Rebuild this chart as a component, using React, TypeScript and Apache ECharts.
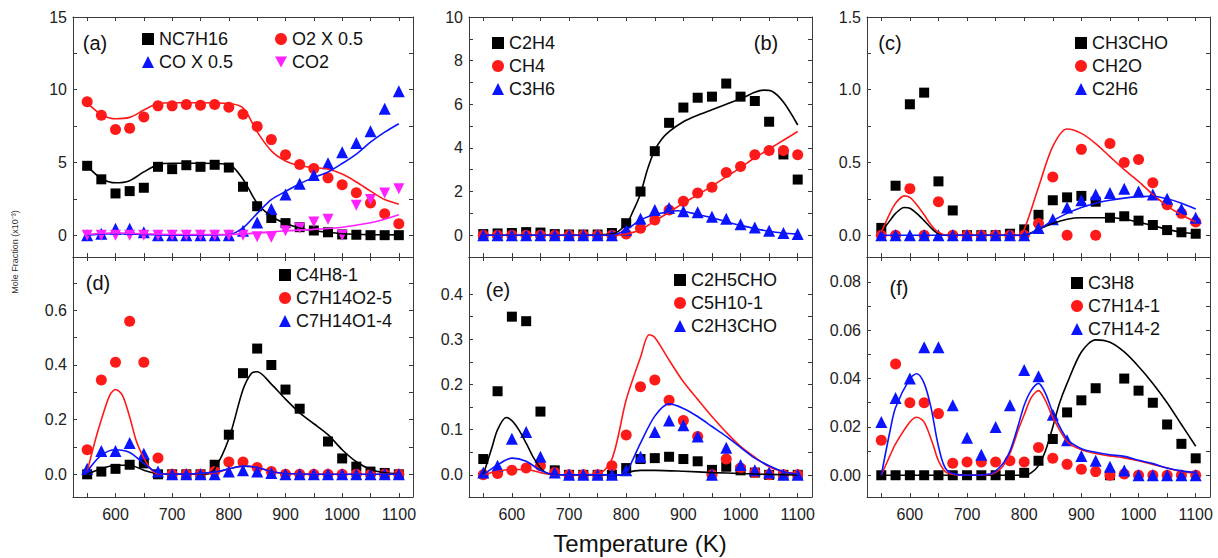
import React, { useEffect, useRef } from "react";
import * as echarts from "echarts";

// ---------- shared axis data ----------
const temps = [550, 575, 600, 625, 650, 675, 700, 725, 750, 775, 800, 825, 850, 875, 900, 925, 950, 975, 1000, 1025, 1050, 1075, 1100];
const xTickValues = [550, 600, 650, 700, 750, 800, 850, 900, 950, 1000, 1050, 1100];
const xLabelValues = [600, 700, 800, 900, 1000, 1100];

// ---------- panel (a) ----------
const nc7h16 = [4.77, 3.84, 2.87, 3.03, 3.26, 4.7, 4.54, 4.81, 4.7, 4.84, 4.65, 3.33, 1.99, 1.18, 0.83, 0.55, 0.32, 0.2, 0.05, 0.03, 0, 0, 0];
const o2x05 = [9.17, 8.24, 7.27, 7.36, 8.13, 8.89, 8.89, 8.98, 8.94, 8.98, 8.8, 8.31, 7.48, 6.57, 5.53, 4.86, 4.58, 3.94, 3.47, 2.92, 2.22, 1.48, 0.79];
const cox05 = [0, 0.1, 0.45, 0.45, 0.2, 0, 0, 0, 0, 0, 0, 0.3, 0.88, 1.8, 2.8, 3.54, 4.14, 4.95, 5.7, 6.34, 7.15, 8.7, 9.9];
const co2 = [0, 0, 0, 0, 0, 0, 0, 0, 0, 0, 0, 0, -0.1, -0.15, 0.3, 0.5, 0.9, 1.1, 0, 2.06, 2.45, 2.9, 3.2];
const nc7h16Model = [[550, 4.75], [575, 3.9], [600, 3.6], [625, 3.75], [650, 4.35], [675, 4.85], [700, 4.95], [750, 4.95], [800, 4.85], [825, 3.85], [850, 2.2], [875, 1.3], [900, 0.8], [925, 0.5], [950, 0.3], [975, 0.2], [1000, 0.1], [1050, 0.04], [1100, 0.02]];
const o2Model = [[550, 9.1], [575, 8.3], [600, 8.0], [625, 8.1], [650, 8.6], [675, 9.05], [700, 9.1], [750, 9.1], [800, 9.05], [825, 8.75], [850, 7.1], [875, 5.8], [900, 5.1], [925, 4.77], [950, 4.65], [975, 4.55], [1000, 4.2], [1025, 3.66], [1050, 3.03], [1075, 2.45], [1100, 2.13]];
const coModel = [[550, 0], [600, 0.1], [650, 0.05], [700, 0], [800, 0.05], [825, 0.5], [850, 1.5], [875, 2.45], [900, 3.0], [925, 3.54], [950, 3.96], [975, 4.35], [1000, 4.93], [1025, 5.58], [1050, 6.39], [1075, 7.08], [1100, 7.66]];
const co2Model = [[550, 0.05], [600, 0.15], [650, 0.1], [700, 0.05], [800, 0.05], [850, 0.15], [900, 0.3], [950, 0.4], [1000, 0.55], [1050, 0.85], [1075, 1.1], [1100, 1.41]];

// ---------- panel (b) ----------
const c2h4 = [0.05, 0.08, 0.1, 0.14, 0.12, 0.05, 0.03, 0.03, 0.03, 0.1, 0.55, 2.0, 3.85, 5.15, 5.85, 6.3, 6.35, 6.95, 6.35, 6.15, 5.2, 3.7, 2.55];
const ch4 = [0, 0, 0, 0, 0, 0, 0, 0, 0, 0, 0.05, 0.32, 0.7, 1.15, 1.55, 1.93, 2.2, 2.87, 3.15, 3.69, 3.88, 3.88, 3.69];
const c3h6 = [0, 0, 0, 0, 0, 0, 0, 0, 0, 0, 0.25, 0.75, 1.15, 1.25, 1.1, 1.05, 0.85, 0.75, 0.5, 0.35, 0.2, 0.1, 0.05];
const c2h4Model = [[550, 0], [700, 0], [775, 0.05], [800, 0.5], [812, 1.1], [825, 1.9], [837, 3.0], [850, 3.9], [862, 4.4], [875, 4.75], [900, 5.2], [925, 5.5], [950, 5.75], [975, 6.0], [1000, 6.25], [1025, 6.55], [1040, 6.65], [1055, 6.6], [1075, 6.1], [1100, 5.05]];
const ch4Model = [[550, 0], [775, 0], [800, 0.05], [825, 0.25], [850, 0.65], [875, 1.05], [900, 1.47], [925, 1.85], [950, 2.25], [975, 2.68], [1000, 3.1], [1025, 3.55], [1050, 3.95], [1075, 4.35], [1100, 4.75]];
const c3h6Model = [[550, 0], [775, 0], [800, 0.25], [825, 0.7], [850, 0.95], [875, 1.08], [890, 1.12], [900, 1.1], [925, 0.95], [950, 0.8], [975, 0.62], [1000, 0.45], [1025, 0.3], [1050, 0.18], [1075, 0.1], [1100, 0.05]];

// ---------- panel (c) ----------
const ch3cho = [0.05, 0.34, 0.9, 0.98, 0.37, 0.17, 0, 0, 0, 0.01, 0.04, 0.14, 0.24, 0.26, 0.27, 0.23, 0.12, 0.13, 0.1, 0.07, 0.035, 0.02, 0.01];
const ch2o = [0, 0, 0.32, 0, 0.23, 0, 0, 0, 0, 0, 0, 0.08, 0.4, 0, 0.59, 0, 0.63, 0.5, 0.52, 0.36, 0.21, 0.15, 0.09];
const c2h6 = [0, 0, 0, 0, 0, 0, 0, 0, 0, 0, 0, 0.05, 0.11, 0.19, 0.24, 0.28, 0.29, 0.32, 0.3, 0.28, 0.25, 0.18, 0.12];
const ch3choModel = [[550, 0.02], [565, 0.1], [575, 0.15], [590, 0.19], [600, 0.185], [612, 0.15], [625, 0.1], [637, 0.05], [650, 0.01], [665, 0], [800, 0], [825, 0.04], [850, 0.08], [875, 0.11], [900, 0.12], [950, 0.12], [975, 0.11], [1000, 0.09], [1025, 0.065], [1050, 0.04], [1075, 0.02], [1100, 0.01]];
const ch2oModel = [[550, 0.02], [565, 0.15], [575, 0.22], [590, 0.27], [600, 0.26], [612, 0.21], [625, 0.14], [637, 0.07], [650, 0.02], [665, 0], [790, 0], [800, 0.04], [825, 0.33], [850, 0.61], [875, 0.73], [900, 0.7], [925, 0.63], [950, 0.54], [975, 0.45], [1000, 0.37], [1025, 0.28], [1050, 0.2], [1075, 0.14], [1100, 0.09]];
const c2h6Model = [[550, 0], [800, 0], [825, 0.04], [850, 0.1], [875, 0.15], [900, 0.19], [925, 0.22], [950, 0.24], [975, 0.255], [1000, 0.265], [1025, 0.268], [1050, 0.25], [1075, 0.22], [1100, 0.18]];

// ---------- panel (d) ----------
const c4h8 = [0, 0.01, 0.02, 0.035, 0.04, 0, 0, 0, 0, 0.035, 0.145, 0.37, 0.46, 0.4, 0.31, 0.24, null, 0.12, 0.058, 0.028, 0.01, 0.005, 0];
const c7h14o2 = [0.09, 0.345, 0.41, 0.56, 0.41, 0.06, 0, 0, 0, 0.01, 0.045, 0.045, 0.025, 0.01, 0, 0, 0, 0, 0, 0, 0, 0, 0];
const c7h14o1 = [0.02, 0.085, 0.085, 0.115, 0.075, 0.01, 0, 0, 0, 0, 0.01, 0.015, 0.01, 0.005, 0, 0, 0, 0, 0, 0, 0, 0, 0];
const c4h8Model = [[550, 0], [575, 0.02], [600, 0.033], [625, 0.033], [650, 0.015], [675, 0.002], [700, 0], [760, 0], [775, 0.02], [800, 0.13], [825, 0.31], [840, 0.37], [850, 0.375], [875, 0.33], [900, 0.275], [925, 0.225], [950, 0.185], [975, 0.145], [1000, 0.09], [1025, 0.046], [1050, 0.018], [1075, 0.006], [1100, 0.002]];
const c7h14o2Model = [[550, 0.01], [565, 0.13], [575, 0.2], [590, 0.29], [600, 0.31], [612, 0.29], [625, 0.21], [637, 0.12], [650, 0.06], [662, 0.02], [675, 0.002], [700, 0], [775, 0.005], [800, 0.02], [825, 0.03], [850, 0.025], [875, 0.01], [900, 0.003], [950, 0], [1100, 0]];
const c7h14o1Model = [[550, 0.01], [575, 0.07], [600, 0.09], [625, 0.08], [650, 0.04], [675, 0.005], [700, 0], [775, 0.008], [800, 0.02], [825, 0.03], [850, 0.025], [875, 0.01], [900, 0.003], [950, 0], [1100, 0]];

// ---------- panel (e) ----------
const c2h5cho = [0.035, 0.185, 0.35, 0.34, 0.14, 0.01, 0, 0, 0, 0, 0.015, 0.035, 0.037, 0.04, 0.035, 0.03, 0.011, 0.018, 0.01, 0.005, 0, 0, 0];
const c5h10 = [0, 0.003, 0.01, 0.015, 0.02, 0.005, 0, 0, 0, 0.02, 0.088, 0.195, 0.21, 0.165, 0.12, 0.085, 0, 0.035, 0.015, 0.005, 0, 0, 0];
const c2h3cho = [0.005, 0.02, 0.08, 0.095, 0.04, 0.005, 0, 0, 0, 0, 0.01, 0.04, 0.095, 0.12, 0.11, 0.085, 0, 0.06, 0.022, 0.01, 0.005, 0, 0];
const c2h5choModel = [[550, 0], [565, 0.06], [575, 0.1], [590, 0.127], [600, 0.12], [612, 0.1], [625, 0.07], [637, 0.04], [650, 0.015], [665, 0.002], [700, 0], [790, 0], [800, 0.005], [825, 0.01], [850, 0.01], [900, 0.008], [950, 0.005], [1000, 0.003], [1050, 0.001], [1100, 0]];
const c5h10Model = [[550, 0], [575, 0.008], [600, 0.012], [625, 0.012], [650, 0.005], [675, 0], [750, 0.002], [775, 0.035], [800, 0.166], [825, 0.26], [840, 0.31], [850, 0.304], [875, 0.254], [900, 0.206], [925, 0.167], [950, 0.129], [975, 0.094], [1000, 0.063], [1025, 0.039], [1050, 0.018], [1075, 0.007], [1100, 0.003]];
const c2h3choModel = [[550, 0], [575, 0.022], [600, 0.037], [625, 0.03], [650, 0.01], [675, 0], [790, 0], [800, 0.005], [812, 0.035], [825, 0.07], [850, 0.13], [875, 0.157], [900, 0.147], [925, 0.129], [950, 0.107], [975, 0.085], [1000, 0.061], [1025, 0.037], [1050, 0.02], [1075, 0.007], [1100, 0.002]];

// ---------- panel (f) ----------
const c3h8 = [0, 0, 0, 0, 0, 0, 0, 0, 0, 0, 0.001, 0.006, 0.015, 0.026, 0.031, 0.036, 0, 0.04, 0.035, 0.03, 0.021, 0.013, 0.007];
const c7h14a = [0.0145, 0.046, 0.03, 0.03, 0.0255, 0.005, 0.0055, 0.0055, 0.0055, 0.006, 0.0055, 0.0115, 0.007, 0.0045, 0.0025, 0.0015, 0, 0.0005, 0, 0, 0, 0, 0];
const c7h14b = [0.022, 0.032, 0.04, 0.053, 0.053, 0.029, 0.0155, 0.0085, 0.02, 0.029, 0.0435, 0.041, 0.025, 0.0145, 0.008, 0.006, 0.0035, 0.002, 0, 0, 0, 0, 0];
const c3h8Model = [[550, 0], [800, 0], [812, 0.001], [825, 0.004], [837, 0.01], [850, 0.02], [862, 0.03], [875, 0.038], [900, 0.051], [925, 0.056], [950, 0.055], [975, 0.051], [1000, 0.045], [1025, 0.038], [1050, 0.03], [1075, 0.021], [1100, 0.012]];
const c7h14aModel = [[550, 0], [565, 0.008], [575, 0.013], [600, 0.022], [612, 0.024], [625, 0.022], [640, 0.013], [650, 0.006], [665, 0.001], [700, 0], [740, 0.0003], [760, 0.003], [775, 0.009], [790, 0.019], [800, 0.025], [812, 0.032], [825, 0.035], [837, 0.031], [850, 0.024], [875, 0.014], [900, 0.0105], [925, 0.009], [950, 0.008], [975, 0.0072], [1000, 0.006], [1025, 0.0045], [1050, 0.003], [1075, 0.0015], [1100, 0.001]];
const c7h14bModel = [[550, 0], [565, 0.018], [575, 0.028], [600, 0.04], [612, 0.042], [625, 0.038], [637, 0.028], [650, 0.012], [665, 0.002], [700, 0], [740, 0.0005], [760, 0.004], [775, 0.01], [790, 0.021], [800, 0.029], [812, 0.035], [825, 0.038], [837, 0.034], [850, 0.026], [875, 0.015], [900, 0.011], [925, 0.0095], [950, 0.0085], [975, 0.0078], [1000, 0.0062], [1025, 0.0048], [1050, 0.003], [1075, 0.0018], [1100, 0.001]];

// ---------- y axis ticks ----------
const yLabelsA = [0, 5, 10, 15];
const yLabelsB = [0, 2, 4, 6, 8, 10];
const yLabelsC = [0, 0.5, 1.0, 1.5];
const yLabelsD = [0, 0.2, 0.4, 0.6];
const yLabelsE = [0, 0.1, 0.2, 0.3, 0.4];
const yLabelsF = [0, 0.02, 0.04, 0.06, 0.08];

const FONT = "'Liberation Sans', Arial, Helvetica, sans-serif";
const BLACK = "#000000";
const RED = "#ff1a1a";
const BLUE = "#0a14ff";
const MAGENTA = "#ff22ff";
const DOWN_TRI = "path://M0,0L10,0L5,9Z";

const SQ = { symbol: "rect", size: 10, color: BLACK };
const CI = { symbol: "circle", size: 11, color: RED };
const TR = { symbol: "triangle", size: 12, color: BLUE };
const DT = { symbol: DOWN_TRI, size: 11, color: MAGENTA };

const halfSteps = (labels: number[], extra: number) => {
  const step = labels[1] - labels[0];
  const out: number[] = [];
  for (let i = 0; i < labels.length; i++) {
    out.push(labels[i]);
    if (i < labels.length - 1 || extra > 0) out.push(labels[i] + step / 2);
  }
  return out;
};

type Sp = { name: string; style: any; values: (number | null)[]; model: number[][] };

const panels: any[] = [
  {
    box: { left: 73, top: 17, width: 340, height: 240 }, min: -1.5, max: 15, labels: yLabelsA, dec: 0, tick: halfSteps(yLabelsA, 0), showX: false,
    tag: "(a)", tagPos: [95, 43],
    legends: [{ left: 142, top: 30, names: ["NC7H16", "CO X 0.5"] }, { left: 275, top: 30, names: ["O2 X 0.5", "CO2"] }],
    sp: [
      { name: "NC7H16", style: SQ, values: nc7h16, model: nc7h16Model },
      { name: "O2 X 0.5", style: CI, values: o2x05, model: o2Model },
      { name: "CO X 0.5", style: TR, values: cox05, model: coModel },
      { name: "CO2", style: DT, values: co2, model: co2Model },
    ] as Sp[],
  },
  {
    box: { left: 469, top: 17, width: 343, height: 240 }, min: -1, max: 10, labels: yLabelsB, dec: 0, tick: halfSteps(yLabelsB, 0), showX: false,
    tag: "(b)", tagPos: [766, 43],
    legends: [{ left: 492, top: 34, names: ["C2H4", "CH4", "C3H6"] }],
    sp: [
      { name: "C2H4", style: SQ, values: c2h4, model: c2h4Model },
      { name: "CH4", style: CI, values: ch4, model: ch4Model },
      { name: "C3H6", style: TR, values: c3h6, model: c3h6Model },
    ] as Sp[],
  },
  {
    box: { left: 867, top: 17, width: 343, height: 240 }, min: -0.15, max: 1.5, labels: yLabelsC, dec: 1, tick: halfSteps(yLabelsC, 0), showX: false,
    tag: "(c)", tagPos: [890, 43],
    legends: [{ left: 1075, top: 34, names: ["CH3CHO", "CH2O", "C2H6"] }],
    sp: [
      { name: "CH3CHO", style: SQ, values: ch3cho, model: ch3choModel },
      { name: "CH2O", style: CI, values: ch2o, model: ch2oModel },
      { name: "C2H6", style: TR, values: c2h6, model: c2h6Model },
    ] as Sp[],
  },
  {
    box: { left: 73, top: 257, width: 340, height: 240 }, min: -0.083, max: 0.795, labels: yLabelsD, dec: 1, tick: halfSteps(yLabelsD, 1), showX: true,
    tag: "(d)", tagPos: [98, 283],
    legends: [{ left: 279, top: 266, names: ["C4H8-1", "C7H14O2-5", "C7H14O1-4"] }],
    sp: [
      { name: "C4H8-1", style: SQ, values: c4h8, model: c4h8Model },
      { name: "C7H14O2-5", style: CI, values: c7h14o2, model: c7h14o2Model },
      { name: "C7H14O1-4", style: TR, values: c7h14o1, model: c7h14o1Model },
    ] as Sp[],
  },
  {
    box: { left: 469, top: 257, width: 343, height: 240 }, min: -0.049, max: 0.482, labels: yLabelsE, dec: 1, tick: halfSteps(yLabelsE, 0), showX: true,
    tag: "(e)", tagPos: [498, 290],
    legends: [{ left: 674, top: 271, names: ["C2H5CHO", "C5H10-1", "C2H3CHO"] }],
    sp: [
      { name: "C2H5CHO", style: SQ, values: c2h5cho, model: c2h5choModel },
      { name: "C5H10-1", style: CI, values: c5h10, model: c5h10Model },
      { name: "C2H3CHO", style: TR, values: c2h3cho, model: c2h3choModel },
    ] as Sp[],
  },
  {
    box: { left: 867, top: 257, width: 343, height: 240 }, min: -0.009, max: 0.0903, labels: yLabelsF, dec: 2, tick: halfSteps(yLabelsF, 0), showX: true,
    tag: "(f)", tagPos: [899, 288],
    legends: [{ left: 1071, top: 274, names: ["C3H8", "C7H14-1", "C7H14-2"] }],
    sp: [
      { name: "C3H8", style: SQ, values: c3h8, model: c3h8Model },
      { name: "C7H14-1", style: CI, values: c7h14a, model: c7h14aModel },
      { name: "C7H14-2", style: TR, values: c7h14b, model: c7h14bModel },
    ] as Sp[],
  },
];

const AXIS_COLOR = "#3a3a3a";

function buildOption() {
  const grid: any[] = [];
  const xAxis: any[] = [];
  const yAxis: any[] = [];
  const series: any[] = [];
  const legend: any[] = [];
  const graphic: any[] = [];

  panels.forEach((p, gi) => {
    grid.push({ ...p.box, containLabel: false });
    const common = {
      type: "value",
      gridIndex: gi,
      splitLine: { show: false },
      axisLine: { show: true, onZero: false, lineStyle: { color: AXIS_COLOR, width: 1 } },
    };
    xAxis.push({
      ...common, min: 525, max: 1125, position: "bottom",
      axisTick: { show: true, inside: true, length: 4, customValues: xTickValues, lineStyle: { color: AXIS_COLOR } },
      axisLabel: { show: p.showX, customValues: xLabelValues, formatter: (v: number) => String(v), fontSize: 16, color: "#222", margin: 9, fontFamily: FONT },
    });
    xAxis.push({
      ...common, min: 525, max: 1125, position: "top",
      axisTick: { show: true, inside: true, length: 4, customValues: xTickValues, lineStyle: { color: AXIS_COLOR } },
      axisLabel: { show: false },
    });
    const fmt = (v: number) => v.toFixed(p.dec);
    yAxis.push({
      ...common, min: p.min, max: p.max, position: "left",
      axisTick: { show: true, inside: true, length: 4, customValues: p.tick, lineStyle: { color: AXIS_COLOR } },
      axisLabel: { show: true, customValues: p.labels, formatter: fmt, fontSize: 16, color: "#222", margin: 6, fontFamily: FONT },
    });
    yAxis.push({
      ...common, min: p.min, max: p.max, position: "right",
      axisTick: { show: true, inside: true, length: 4, customValues: p.tick, lineStyle: { color: AXIS_COLOR } },
      axisLabel: { show: false },
    });

    (p.sp as Sp[]).forEach((s) => {
      const pts: number[][] = [];
      temps.forEach((t, i) => {
        const v = s.values[i];
        if (v !== null && v !== undefined) pts.push([t, v]);
      });
      series.push({
        name: s.name,
        type: "scatter",
        xAxisIndex: gi * 2,
        yAxisIndex: gi * 2,
        symbol: s.style.symbol,
        symbolSize: s.style.size,
        itemStyle: { color: s.style.color, opacity: 1 },
        data: pts,
        z: 2,
      });
    });
    (p.sp as Sp[]).forEach((s) => {
      series.push({
        name: s.name + " model",
        type: "line",
        xAxisIndex: gi * 2,
        yAxisIndex: gi * 2,
        showSymbol: false,
        symbol: "none",
        smooth: 0.3,
        lineStyle: { color: s.style.color, width: 1.6 },
        itemStyle: { color: s.style.color },
        data: s.model,
        z: 3,
      });
    });

    p.legends.forEach((lg: any) => {
      legend.push({
        orient: "vertical",
        left: lg.left,
        top: lg.top,
        padding: 0,
        itemWidth: 12,
        itemHeight: 12,
        itemGap: 5,
        selectedMode: false,
        data: lg.names,
        textStyle: { fontSize: 18, color: "#111", fontFamily: FONT, padding: [0, 0, 0, 0] },
      });
    });

    graphic.push({
      type: "text",
      x: p.tagPos[0],
      y: p.tagPos[1],
      style: { text: p.tag, font: `20px ${FONT}`, fill: "#111", textAlign: "center", textVerticalAlign: "middle" },
    });
  });

  graphic.push({
    type: "text",
    x: 640,
    y: 543,
    style: { text: "Temperature (K)", font: `24px ${FONT}`, fill: "#111", textAlign: "center", textVerticalAlign: "middle" },
  });
  graphic.push({
    type: "text",
    x: 15,
    y: 252,
    rotation: Math.PI / 2,
    style: { text: "Mole Fraction (x10\u207B\u00B3)", font: `9px ${FONT}`, fill: "#333", textAlign: "center", textVerticalAlign: "middle" },
  });

  return {
    animation: false,
    backgroundColor: "#ffffff",
    textStyle: { fontFamily: FONT },
    grid,
    xAxis,
    yAxis,
    legend,
    series,
    graphic,
  };
}

export default function App() {
  const ref = useRef<HTMLDivElement>(null);
  useEffect(() => {
    if (!ref.current) return;
    const chart = echarts.init(ref.current, null, { renderer: "svg" });
    chart.setOption(buildOption() as any);
    return () => chart.dispose();
  }, []);
  return (
    <div
      ref={ref}
      style={{ position: "absolute", left: 0, top: 0, width: 1218, height: 558, background: "#fff" }}
    />
  );
}
